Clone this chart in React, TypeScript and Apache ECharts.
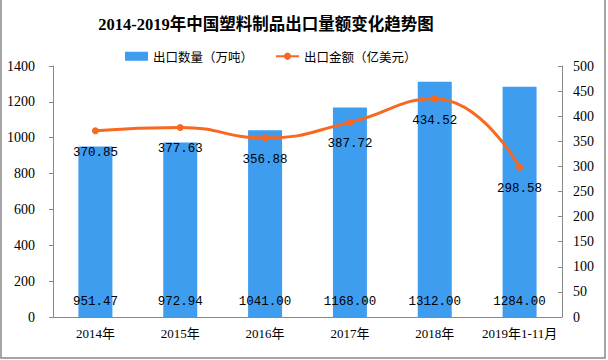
import React, { useEffect, useRef } from "react";
import * as echarts from "echarts";

const categories = ["2014年", "2015年", "2016年", "2017年", "2018年", "2019年1-11月"];
const exportVolume = [951.47, 972.94, 1041.0, 1168.0, 1312.0, 1284.0];
const exportValue = [370.85, 377.63, 356.88, 387.72, 434.52, 298.58];
const titleText = "2014-2019年中国塑料制品出口量额变化趋势图";
const volumeName = "出口数量（万吨）";
const valueName = "出口金额（亿美元）";

const SERIF = "'Liberation Serif', 'Noto Sans CJK SC', serif";
const MONO = "'Liberation Mono', 'DejaVu Sans Mono', monospace";

export default function App() {
  const ref = useRef<HTMLDivElement>(null);
  useEffect(() => {
    const chart = echarts.init(ref.current!, null, { renderer: "svg" });
    chart.setOption({
      animation: false,
      backgroundColor: "#fff",
      title: {
        text: titleText,
        left: 261,
        textAlign: "center",
        top: 11,
        textStyle: { fontFamily: SERIF, fontSize: 16.5, fontWeight: "bold", color: "#000" },
      },
      legend: {
        top: 45,
        left: 120,
        itemGap: 22,
        itemWidth: 23,
        itemHeight: 9,
        textStyle: { fontFamily: "'Noto Sans CJK SC', sans-serif", fontSize: 12.5, color: "#000" },
        data: [
          { name: volumeName, icon: "rect" },
          { name: valueName },
        ],
      },
      graphic: [
        {
          type: "rect",
          shape: { x: 1, y: -2, width: 604, height: 360 },
          style: { fill: "none", stroke: "#888", lineWidth: 1.5 },
          silent: true,
        },
      ],
      grid: { left: 53, right: 46, top: 66, bottom: 43 },
      xAxis: {
        type: "category",
        data: categories,
        boundaryGap: true,
        axisLine: { lineStyle: { color: "#888" } },
        axisTick: { length: 4, lineStyle: { color: "#888" } },
        axisLabel: { interval: 0, fontFamily: SERIF, fontSize: 13, color: "#000", margin: 10 },
      },
      yAxis: [
        {
          type: "value",
          min: 0,
          max: 1400,
          interval: 200,
          axisLine: { show: true, lineStyle: { color: "#888" } },
          axisTick: { show: true, length: 4, lineStyle: { color: "#888" } },
          splitLine: { show: false },
          axisLabel: {
            fontFamily: SERIF,
            fontSize: 14,
            color: "#000",
            margin: 18,
            formatter: (v: number) => String(v),
          },
        },
        {
          type: "value",
          min: 0,
          max: 500,
          interval: 50,
          position: "right",
          axisLine: { show: true, lineStyle: { color: "#888" } },
          axisTick: { show: true, length: 4, inside: true, lineStyle: { color: "#888" } },
          splitLine: { show: false },
          axisLabel: {
            fontFamily: SERIF,
            fontSize: 14,
            color: "#000",
            margin: 11,
            formatter: (v: number) => String(v),
          },
        },
      ],
      series: [
        {
          name: volumeName,
          type: "bar",
          data: exportVolume,
          barWidth: 34,
          itemStyle: { color: "#3F9DF0" },
          label: {
            show: true,
            position: "insideBottom",
            distance: 9,
            fontFamily: MONO,
            fontSize: 12.5,
            color: "#000",
            formatter: (p: any) => Number(p.value).toFixed(2),
          },
        },
        {
          name: valueName,
          type: "line",
          yAxisIndex: 1,
          data: exportValue,
          smooth: 0.5,
          symbol: "circle",
          symbolSize: 7,
          itemStyle: { color: "#F8681F" },
          lineStyle: { color: "#F8681F", width: 3 },
          label: {
            show: true,
            position: "bottom",
            distance: 12,
            fontFamily: MONO,
            fontSize: 12.5,
            color: "#000",
            formatter: (p: any) => Number(p.value).toFixed(2),
          },
        },
      ],
    });
    return () => chart.dispose();
  }, []);
  return (
    <div
      ref={ref}
      style={{ position: "fixed", left: 0, top: 0, width: 608, height: 360 }}
    />
  );
}
